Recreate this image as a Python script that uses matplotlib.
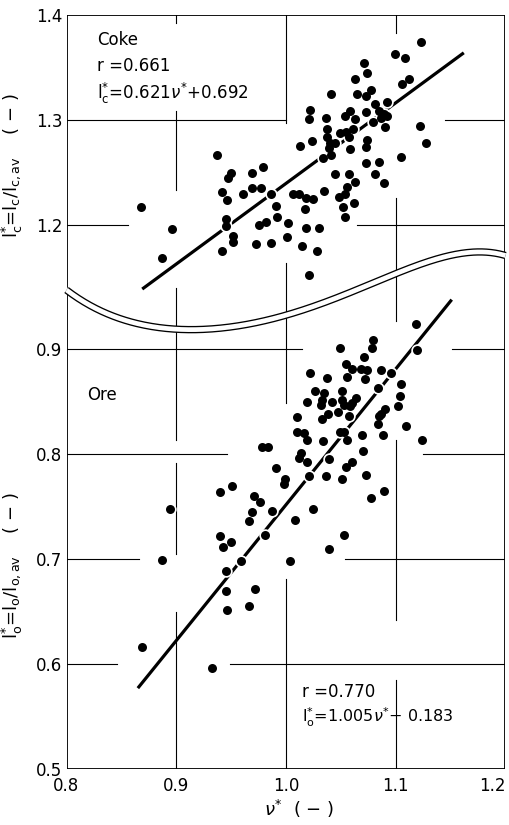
import numpy as np
import matplotlib.pyplot as plt
from matplotlib.patches import Polygon
from matplotlib.lines import Line2D

plt.rcParams['font.family'] = 'DejaVu Sans'
plt.rcParams['mathtext.fontset'] = 'dejavusans'

# Coke: normalised coke layer thickness vs nu*
coke_x = [1.123, 1.099, 1.108, 1.071, 1.074, 1.063, 1.112, 1.106, 1.077, 1.041,
          1.065, 1.073, 1.092, 1.081, 1.022, 1.058, 1.073, 1.085, 1.089, 1.092,
          1.087, 1.054, 1.063, 1.021, 1.036, 1.079, 1.090, 1.122, 1.037, 1.049,
          1.055, 1.061, 1.057, 1.037, 1.024, 1.013, 1.040, 1.045, 1.074, 1.073,
          1.128, 1.058, 1.039, 1.041, 1.034, 1.105, 1.073, 1.085, 1.045, 1.057,
          1.081, 1.063, 1.089, 1.056, 1.035, 1.006, 1.012, 1.018, 1.025, 1.048,
          1.054, 1.062, 1.052, 1.054, 1.017, 1.002, 1.001, 1.018, 1.030, 1.015,
          1.028, 0.937, 0.950, 0.947, 0.969, 0.979, 0.942, 0.946, 0.961, 0.969,
          0.977, 0.986, 0.991, 0.868, 0.945, 0.945, 0.975, 0.982, 0.992, 0.896,
          0.952, 0.952, 0.942, 0.973, 0.986, 0.887, 1.021]
coke_y = [1.374, 1.363, 1.359, 1.354, 1.345, 1.339, 1.339, 1.334, 1.329, 1.325,
          1.325, 1.323, 1.317, 1.315, 1.310, 1.309, 1.308, 1.309, 1.306, 1.304,
          1.302, 1.304, 1.301, 1.301, 1.302, 1.298, 1.293, 1.294, 1.291, 1.288,
          1.289, 1.291, 1.284, 1.284, 1.280, 1.275, 1.278, 1.278, 1.281, 1.274,
          1.278, 1.272, 1.273, 1.267, 1.264, 1.265, 1.259, 1.260, 1.249, 1.249,
          1.249, 1.241, 1.240, 1.236, 1.232, 1.230, 1.230, 1.226, 1.225, 1.227,
          1.230, 1.221, 1.217, 1.208, 1.215, 1.202, 1.189, 1.197, 1.197, 1.180,
          1.175, 1.267, 1.250, 1.245, 1.250, 1.255, 1.231, 1.224, 1.230, 1.235,
          1.235, 1.230, 1.218, 1.217, 1.206, 1.199, 1.200, 1.203, 1.208, 1.196,
          1.190, 1.184, 1.175, 1.182, 1.183, 1.169, 1.152]

# Ore
ore_x = [1.118, 1.079, 1.078, 1.049, 1.119, 1.071, 1.055, 1.060, 1.068, 1.074,
         1.087, 1.096, 1.022, 1.037, 1.056, 1.072, 1.105, 1.084, 1.026, 1.035,
         1.051, 1.064, 1.104, 1.019, 1.032, 1.033, 1.042, 1.051, 1.053, 1.058,
         1.060, 1.102, 1.090, 1.087, 1.085, 1.047, 1.057, 1.038, 1.033, 1.010,
         1.084, 1.109, 1.010, 1.016, 1.049, 1.053, 1.069, 1.088, 1.124, 1.019,
         1.034, 1.056, 0.978, 0.984, 1.070, 1.014, 1.012, 1.019, 1.039, 1.060,
         1.055, 0.991, 1.021, 1.036, 1.051, 1.073, 0.999, 0.998, 1.089, 1.077,
         0.971, 0.976, 0.987, 0.969, 0.966, 1.025, 1.008, 0.981, 1.053, 1.039,
         0.940, 0.951, 0.894, 0.940, 0.950, 0.943, 0.887, 0.959, 0.945, 0.945,
         0.972, 0.946, 0.966, 0.869, 0.933, 1.004]
ore_y = [0.924, 0.909, 0.901, 0.901, 0.899, 0.892, 0.886, 0.881, 0.881, 0.880,
         0.880, 0.877, 0.877, 0.872, 0.873, 0.871, 0.867, 0.863, 0.860, 0.858,
         0.860, 0.853, 0.855, 0.850, 0.847, 0.851, 0.850, 0.851, 0.847, 0.846,
         0.849, 0.846, 0.843, 0.838, 0.836, 0.840, 0.836, 0.838, 0.833, 0.835,
         0.829, 0.827, 0.821, 0.820, 0.821, 0.821, 0.818, 0.818, 0.813, 0.813,
         0.812, 0.813, 0.807, 0.807, 0.803, 0.801, 0.796, 0.792, 0.795, 0.792,
         0.788, 0.787, 0.779, 0.779, 0.776, 0.780, 0.776, 0.771, 0.765, 0.758,
         0.760, 0.754, 0.746, 0.745, 0.736, 0.748, 0.737, 0.723, 0.723, 0.710,
         0.764, 0.770, 0.748, 0.722, 0.716, 0.711, 0.699, 0.698, 0.689, 0.670,
         0.671, 0.651, 0.655, 0.616, 0.596, 0.698]

# regression lines as drawn
coke_fit_x = [0.869, 1.162]
coke_fit_y = [1.139, 1.364]
ore_fit_x = [0.865, 1.151]
ore_fit_y = [0.577, 0.947]

x_ticks = [0.8, 0.9, 1.0, 1.1, 1.2]
x_labels = ['0.8', '0.9', '1.0', '1.1', '1.2']
coke_ticks = [1.2, 1.3, 1.4]
coke_labels = ['1.2', '1.3', '1.4']
ore_ticks = [0.5, 0.6, 0.7, 0.8, 0.9]
ore_labels = ['0.5', '0.6', '0.7', '0.8', '0.9']

# broken grid segments (value, start, end)
coke_hgrid = [(1.3, 0.8, 1.0), (1.3, 1.145, 1.2), (1.2, 0.8, 0.856), (1.2, 1.065, 1.2)]
coke_vgrid = [(0.9, 1.392, 1.4), (0.9, 1.233, 1.309), (0.9, 1.0, 1.140),
              (1.0, 1.297, 1.4), (1.0, 1.0, 1.164),
              (1.1, 1.383, 1.4), (1.1, 1.0, 1.226)]
ore_hgrid = [(0.9, 0.8, 1.015), (0.9, 1.151, 1.2), (0.8, 0.8, 0.946), (0.8, 1.125, 1.2),
             (0.7, 0.8, 0.866), (0.7, 1.054, 1.2), (0.6, 0.8, 0.846), (0.6, 0.949, 1.2)]
ore_vgrid = [(0.9, 0.813, 1.1), (0.9, 0.705, 0.791), (0.9, 0.5, 0.650),
             (1.0, 0.849, 1.1), (1.0, 0.5, 0.681),
             (1.1, 0.927, 1.1), (1.1, 0.642, 0.813), (1.1, 0.5, 0.585)]

# axis-break wave (x, pixel row)
wave_x = [0.8, 0.83, 0.86, 0.9, 0.95, 1.0, 1.042, 1.1, 1.133, 1.176, 1.2]
wave_py = [290, 310, 323, 329, 326, 316, 300, 273, 260, 253, 255]

W, H = 510, 825
L, R = 66.5, 505.5
TOP_U, BOT_U = 15, 335
TOP_L, BOT_L = 248, 769
PX_PER = 1050.0

fig = plt.figure(figsize=(W / 100, H / 100), dpi=100)


def rect(top, bot):
    return [L / W, 1 - bot / H, (R - L) / W, (bot - top) / H]


ax_l = fig.add_axes(rect(TOP_L, BOT_L))
ax_u = fig.add_axes(rect(TOP_U, BOT_U))

panels = [
    (ax_u, coke_x, coke_y, coke_fit_x, coke_fit_y, coke_hgrid, coke_vgrid),
    (ax_l, ore_x, ore_y, ore_fit_x, ore_fit_y, ore_hgrid, ore_vgrid),
]

for ax, xs, ys, fx, fy, hg, vg in panels:
    ax.set_facecolor('none')
    for y, x0, x1 in hg:
        ax.plot([x0, x1], [y, y], color='k', lw=0.8, zorder=1)
    for x, y0, y1 in vg:
        ax.plot([x, x], [y0, y1], color='k', lw=0.8, zorder=1)
    ax.plot(fx, fy, color='k', lw=2.3, solid_capstyle='butt', zorder=2)
    ax.scatter(xs, ys, s=80, color='white', linewidths=0, zorder=3)
    ax.scatter(xs, ys, s=42, color='black', linewidths=0, zorder=4)
    ax.set_xlim(0.8, 1.2)
    ax.tick_params(length=0, labelsize=12, pad=3)
    for sp in ax.spines.values():
        sp.set_linewidth(1.3)

ax_u.set_ylim(1.4 - (BOT_U - TOP_U) / PX_PER, 1.4)
ax_l.set_ylim(0.5, 0.5 + (BOT_L - TOP_L) / PX_PER)

ax_u.set_xticks([])
ax_u.set_yticks(coke_ticks, coke_labels)
ax_u.spines['bottom'].set_visible(False)
ax_l.spines['top'].set_visible(False)
ax_l.set_yticks(ore_ticks, ore_labels)
ax_l.set_xticks(x_ticks, x_labels)
ax_l.tick_params(axis='x', pad=6)
ax_l.get_xticklabels()[-1].set_horizontalalignment('right')

ax_u.set_ylabel(r'l$^{*}_{\mathrm{c}}$=l$_{\mathrm{c}}$/l$_{\mathrm{c,av}}$    ( $-$ )', fontsize=13)
ax_u.yaxis.set_label_coords(-0.095, 0.53)
ax_l.set_ylabel(r'l$^{*}_{\mathrm{o}}$=l$_{\mathrm{o}}$/l$_{\mathrm{o,av}}$    ( $-$ )', fontsize=13)
ax_l.yaxis.set_label_coords(-0.095, 0.39)
ax_l.set_xlabel(r'$\nu^{*}$  ( $-$ )', fontsize=13)
ax_l.xaxis.set_label_coords(0.53, -0.055)

ax_u.text(0.8275, 1.376, 'Coke', fontsize=12, va='center')
ax_u.text(0.828, 1.351, 'r =0.661', fontsize=12, va='center')
ax_u.text(0.828, 1.325, r'l$^{*}_{\mathrm{c}}$=0.621$\nu^{*}$+0.692', fontsize=12, va='center')
ax_l.text(0.819, 0.856, 'Ore', fontsize=12, va='center')
ax_l.text(1.015, 0.573, 'r =0.770', fontsize=12, va='center')
ax_l.text(1.015, 0.549, r'l$^{*}_{\mathrm{o}}$=1.005$\nu^{*}$$-$ 0.183', fontsize=11.5, va='center')

# wave that marks the axis break
coef = np.polyfit(wave_x, wave_py, 5)
wx = np.linspace(0.8, 1.2, 300)
wpy = np.polyval(coef, wx)


def fig_x(x):
    return (L + (np.asarray(x) - 0.8) / 0.4 * (R - L)) / W


ex = np.concatenate([[0.78], wx, [1.22]])
epy = np.concatenate([[wpy[0]], wpy, [wpy[-1]]])
gap = 3.0
up_verts = list(zip(fig_x(ex), 1 - (epy - gap) / H)) + [(fig_x(1.22), 1.0), (fig_x(0.78), 1.0)]
lo_verts = list(zip(fig_x(ex), 1 - (epy + gap) / H)) + [(fig_x(1.22), 0.0), (fig_x(0.78), 0.0)]
clip_u = Polygon(up_verts, closed=True, transform=fig.transFigure)
clip_l = Polygon(lo_verts, closed=True, transform=fig.transFigure)

for ax, clip in [(ax_u, clip_u), (ax_l, clip_l)]:
    for art in list(ax.lines) + list(ax.collections) + list(ax.spines.values()):
        art.set_clip_path(clip)
        art.set_clip_on(True)

fig.add_artist(Line2D(fig_x(wx), 1 - wpy / H, transform=fig.transFigure,
                      color='k', lw=5.3, solid_capstyle='butt'))
fig.add_artist(Line2D(fig_x(wx), 1 - wpy / H, transform=fig.transFigure,
                      color='white', lw=3.4, solid_capstyle='butt'))

fig.savefig('out.png', dpi=100)
plt.close(fig)
